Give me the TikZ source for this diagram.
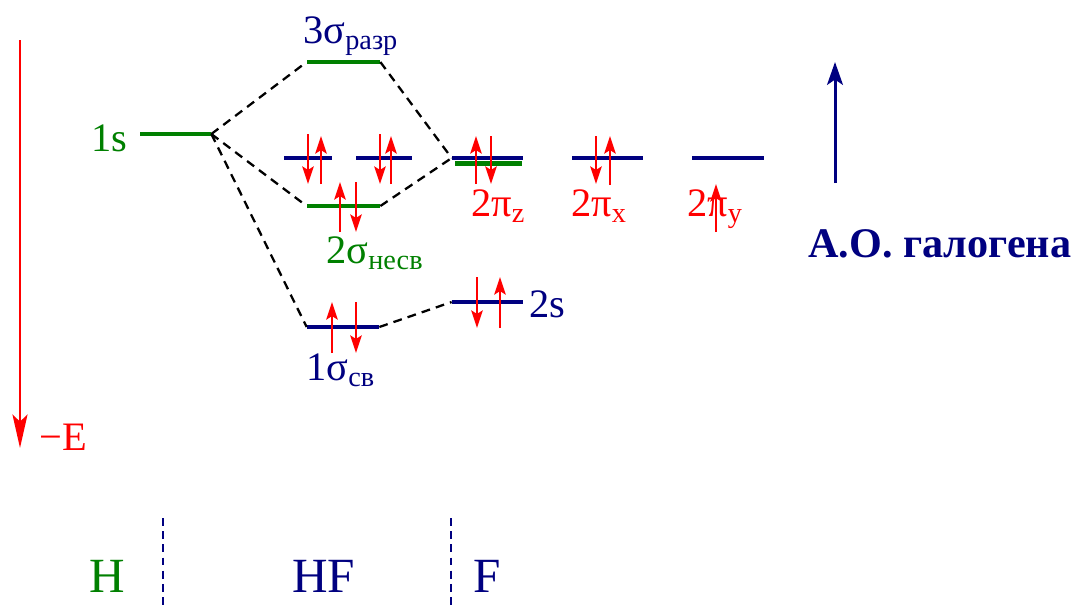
\documentclass[tikz,border=0pt]{standalone}
\usepackage{fontspec}
\setmainfont{Liberation Serif}
\newfontfamily\timesfont{Liberation Serif}
\usepackage{xcolor}
\usetikzlibrary{arrows.meta, positioning}
\definecolor{navy}{RGB}{0,0,128}
\definecolor{hgreen}{RGB}{0,128,0}

\begin{document}
\begin{tikzpicture}[
  x=0.02cm, y=-0.02cm,
  lvl/.style    = {fill, inner sep=0pt, minimum height=0.085cm, minimum width=1.44cm},
  hlvl/.style   = {lvl, hgreen},
  flvl/.style   = {lvl, navy},
  txt/.style    = {inner sep=0pt, anchor=base west, font=\timesfont\fontsize{23}{26}\selectfont},
  mix/.style    = {dashed, line width=1.3pt, dash pattern=on 5pt off 3.5pt},
  sep/.style    = {navy, line width=1.1pt, dash pattern=on 4.5pt off 3pt},
  el/.style     = {red, line width=1.3pt, -{Stealth[length=10pt, width=6.5pt, inset=2pt]}},
]
\useasboundingbox (0,0) rectangle (1075,610);

%% Energy axis
\node[txt, red] (ene) at (39,450) {−E};
\coordinate (etop) at (20,40);
\coordinate (ebot) at (20,448);
\draw[red, line width=1.7pt, -{Stealth[length=19pt, width=8.5pt, inset=4pt]}] (etop) -- (ebot);

%% Levels of H
\node[hlvl, minimum width=1.42cm] (h1s) at (175.5,134) {};
\node[txt, hgreen] (h1slbl) at (91,151) {1s};

%% Molecular levels of HF
\node[hlvl, minimum width=1.46cm] (sg3) at (343.5,62) {};
\node[hlvl, minimum width=1.46cm] (sg2) at (343.5,206) {};
\node[flvl, minimum width=1.44cm] (sg1) at (343,327) {};
\node[flvl, minimum width=0.96cm] (pinb1) at (308,158) {};
\node[flvl, minimum width=1.12cm] (pinb2) at (384,158) {};

\node[txt, navy]   (sg3lbl) at (303,43)  {3σ\textsubscript{разр}};
\node[txt, hgreen] (sg2lbl) at (326,263) {2σ\textsubscript{несв}};
\node[txt, navy]   (sg1lbl) at (306,380) {1σ\textsubscript{св}};

%% Levels of F
\node[flvl, minimum width=1.42cm] (fpz)  at (487.5,158) {};
\node[hlvl, minimum width=1.34cm] (fpzg) at (488.5,163.5) {};
\node[flvl, minimum width=1.42cm] (fpx)  at (607.5,158) {};
\node[flvl, minimum width=1.44cm] (fpy)  at (728,158) {};
\node[flvl, minimum width=1.42cm] (f2s)  at (487.5,302) {};

\node[txt, red]  (fpzlbl) at (471,216) {2π\textsubscript{z}};
\node[txt, red]  (fpxlbl) at (571,216) {2π\textsubscript{x}};
\node[txt, red]  (fpylbl) at (687,216) {2π\textsubscript{y}};
\node[txt, navy] (f2slbl) at (529,317) {2s};

%% Correlation lines
\draw[mix] (h1s.east) -- (sg3.west);
\draw[mix] (sg3.east) -- (fpz.west);
\draw[mix] (h1s.east) -- (sg2.west);
\draw[mix] (sg2.east) -- (fpz.west);
\draw[mix] (h1s.east) -- (sg1.west);
\draw[mix] (sg1.east) -- (f2s.west);

%% Electrons
\draw[el] (308,134) -- (308,184);
\draw[el] (321,184) -- (321,136);
\draw[el] (380,134) -- (380,184);
\draw[el] (391,184) -- (391,136);
\draw[el] (340,232) -- (340,182);
\draw[el] (356,182) -- (356,232);
\draw[el] (332,353) -- (332,302);
\draw[el] (356,302) -- (356,353);
\draw[el] (477,277) -- (477,328);
\draw[el] (500,328) -- (500,277);
\draw[el] (476,184) -- (476,136);
\draw[el] (491,136) -- (491,184);
\draw[el] (596,136) -- (596,184);
\draw[el] (610,185) -- (610,136);
\draw[el] (716,232) -- (716,184);

%% Halogen AO arrow
\coordinate (aobot) at (835,183);
\coordinate (aotop) at (835,62);
\draw[navy, line width=1.7pt, -{Stealth[length=13pt, width=9pt, inset=3pt]}] (aobot) -- (aotop);
\node[inner sep=0pt, anchor=base west, navy, font=\timesfont\bfseries\fontsize{24}{27}\selectfont]
  (aolbl) at (808,257) {А.О. галогена};

%% Columns
\coordinate (sepa) at (163,518);
\coordinate (sepb) at (451,518);
\draw[sep] (sepa) -- (163,610);
\draw[sep] (sepb) -- (451,610);
\node[txt, hgreen, font=\timesfont\fontsize{28}{32}\selectfont] (hlbl)  at (89,592)  {H};
\node[txt, navy,   font=\timesfont\fontsize{28}{32}\selectfont] (hflbl) at (292,592) {HF};
\node[txt, navy,   font=\timesfont\fontsize{28}{32}\selectfont] (flbl)  at (473,592) {F};

\end{tikzpicture}
\end{document}
